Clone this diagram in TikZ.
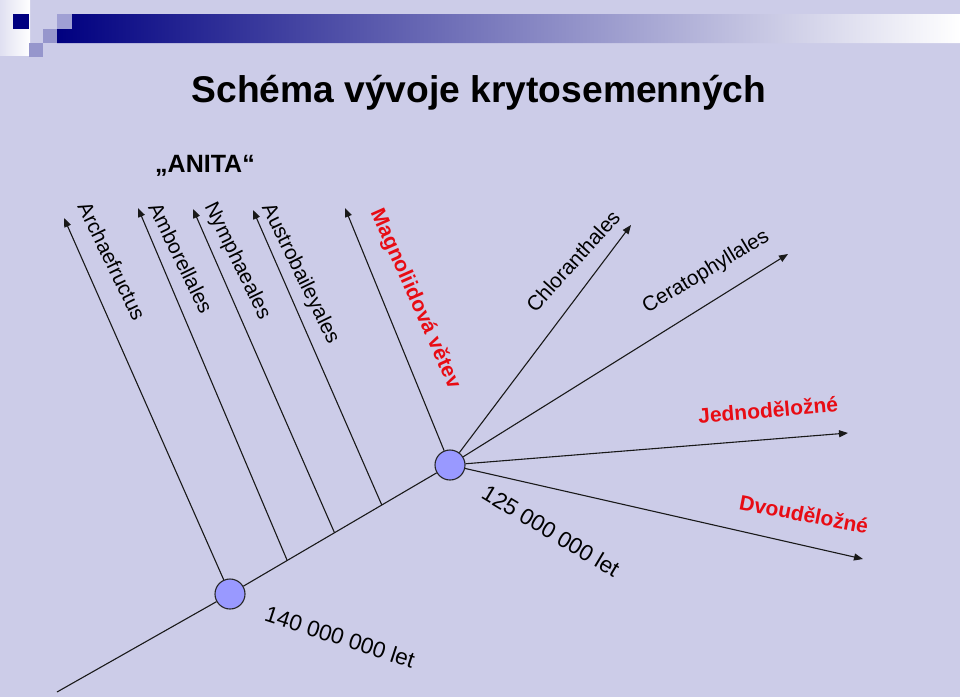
\documentclass[tikz,border=0pt]{standalone}
\usepackage{fontspec}
\setmainfont{Liberation Sans}
\usetikzlibrary{arrows.meta,calc}
\definecolor{bg}{RGB}{204,204,232}
\definecolor{navy}{RGB}{0,0,128}
\definecolor{midp}{RGB}{150,150,204}
\definecolor{lightp}{RGB}{160,160,212}
\definecolor{nodefill}{RGB}{153,153,255}
\definecolor{lblred}{RGB}{232,12,20}
\begin{document}
\begin{tikzpicture}[x=1pt,y=-1pt,
  branch/.style={line width=1.1pt, draw=black!90},
  arr/.style={branch, -{Triangle[length=9pt,width=7pt]}},
  junction/.style={circle, minimum size=30pt, inner sep=0pt, fill=nodefill, draw=black!85, line width=1.1pt},
  leaf/.style={font=\fontsize{20.8}{24}\selectfont, inner sep=0pt},
  age/.style={font=\fontsize{22.6}{26}\selectfont, inner sep=0pt},
  redlbl/.style={font=\bfseries\fontsize{21}{25}\selectfont, text=lblred, inner sep=0pt}
]
% background
\fill[bg] (0,0) rectangle (960,697);
\path[use as bounding box] (0,0) rectangle (960,697);
% header decoration
\shade[left color=bg!60!white, right color=white] (0,0) rectangle (30,55);
\shade[left color=navy, right color=white] (72,14) -- (960,14) -- (960,43) -- (57,43) -- (57,29) -- (72,29) -- cycle;
\fill[lightp] (57,14) rectangle (72,29);
\fill[midp] (43,29) rectangle (57,43);
\fill[midp] (29,43) rectangle (43,57);
\fill[navy] (13,14) rectangle (29,29);
% title
\node[font=\bfseries\fontsize{37.2}{40}\selectfont, inner sep=0pt] (title) at (479,93) {Schéma vývoje krytosemenných};
\node[font=\bfseries\fontsize{25}{28}\selectfont, inner sep=0pt] (anita) at (205,166) {„ANITA“};
% junctions
\node[junction] (c1) at (230,594) {};
\node[junction] (c2) at (450,465) {};
\coordinate (t0) at (57,692);
\coordinate (jAmb) at ($(c1)!0.26!(c2)$);
\coordinate (jNym) at ($(c1)!0.475!(c2)$);
\coordinate (jAus) at ($(c1)!0.69!(c2)$);
% tips
\coordinate (tArch) at (64,218);
\coordinate (tAmb) at (138,208);
\coordinate (tNym) at (193,209);
\coordinate (tAus) at (253,210);
\coordinate (tMag) at (345,208);
\coordinate (tChl) at (631,225);
\coordinate (tCer) at (788,254);
\coordinate (tJed) at (848,433);
\coordinate (tDvo) at (863,559);
% trunk
\draw[branch] (t0) -- (c1);
\draw[branch] (c1) -- (c2);
% branches
\draw[arr] (c1) -- (tArch);
\draw[arr] (jAmb) -- (tAmb);
\draw[arr] (jNym) -- (tNym);
\draw[arr] (jAus) -- (tAus);
\draw[arr] (c2) -- (tMag);
\draw[arr] (c2) -- (tChl);
\draw[arr] (c2) -- (tCer);
\draw[arr] (c2) -- (tJed);
\draw[arr] (c2) -- (tDvo);
% labels
\node[leaf, rotate=-64] (lArch) at (112,261) {Archaefructus};
\node[leaf, rotate=-64] (lAmb) at (181,258) {Amborellales};
\node[leaf, rotate=-64] (lNym) at (237,261) {Nymphaeales};
\node[leaf, rotate=-64] (lAus) at (300,274) {Austrobaileyales};
\node[redlbl, rotate=-66] (lMag) at (415,299) {Magnoliidová větev};
\node[leaf, rotate=48] (lChl) at (573,261) {Chloranthales};
\node[leaf, rotate=31] (lCer) at (706,272) {Ceratophyllales};
\node[redlbl, rotate=5] (lJed) at (768,410) {Jednoděložné};
\node[redlbl, rotate=-11] (lDvo) at (804,514) {Dvouděložné};
\node[age, rotate=-31] (a125) at (551,531) {125 000 000 let};
\node[age, rotate=-18] (a140) at (340,637) {140 000 000 let};
\end{tikzpicture}
\end{document}
